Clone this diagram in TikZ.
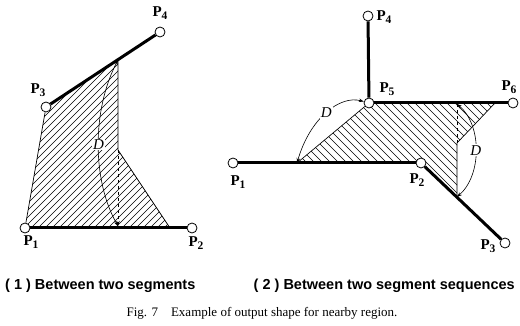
\documentclass[tikz,border=0pt]{standalone}
\usepackage{fontspec}
\setmainfont{Liberation Serif}
\newfontfamily\capfont{Liberation Sans}
\usetikzlibrary{arrows.meta}
\newcommand\plabel[1]{\textbf{P\raisebox{-0.4ex}{\fontsize{11.5}{11.5}\selectfont #1}}}
\tikzset{
  pt/.style={circle,draw,fill=white,line width=0.8pt,minimum size=10pt,inner sep=0pt},
  thick seg/.style={line width=3pt},
  edge/.style={line width=0.7pt},
  hatch/.style={line width=0.6pt},
  darr/.style={line width=0.6pt,{Stealth[length=5pt,width=3.5pt]}-{Stealth[length=5pt,width=3.5pt]}},
  sarr/.style={line width=0.6pt,-{Stealth[length=5pt,width=3.5pt]}},
  lbl/.style={font=\fontsize{15}{15}\selectfont,inner sep=1pt},
  dlbl/.style={font=\fontsize{15}{15}\selectfont\itshape,fill=white,inner sep=1pt},
  captext/.style={font=\capfont\bfseries\fontsize{14.5}{14.5}\selectfont,inner sep=0pt},
}
\begin{document}
\begin{tikzpicture}[x=1pt,y=-1pt]
\useasboundingbox (0,0) rectangle (520,326);
% ---------- left figure ----------
\coordinate (T) at (118,60);
\coordinate (M) at (118,150);
\coordinate (Q) at (170,228);
\coordinate (B) at (118,226);
\begin{scope}
  \clip (25,228) -- (46,107) -- (T) -- (M) -- (Q) -- cycle;
  \foreach \i in {-240,-233,...,200} \draw[hatch] (\i,240) -- ++(240,-240);
\end{scope}
\node[pt] (a1) at (25,228) {};
\node[pt] (a2) at (192,228) {};
\node[pt] (a3) at (46,107) {};
\node[pt] (a4) at (160,32) {};
\draw[edge] (a1) -- (a3);
\draw[edge] (T) -- (M) -- (Q);
\draw[thick seg] (a1) -- (a2);
\draw[thick seg] (a3) -- (a4);
\draw[sarr,dashed] (M) -- (B);
\draw[darr] (T) .. controls (92,110) and (92,180) .. (B) node[dlbl,pos=0.5] (dl) {D};
\node[lbl] (la4) at (160,13) {\plabel{4}};
\node[lbl] (la3) at (38,90) {\plabel{3}};
\node[lbl] (la1) at (31,242) {\plabel{1}};
\node[lbl] (la2) at (196,243) {\plabel{2}};
% ---------- right figure ----------
\coordinate (A) at (297,163);
\coordinate (R) at (495,103);
\coordinate (S) at (457,143);
\coordinate (U) at (457,197);
\coordinate (Ut) at (457,104);
\begin{scope}
  \clip (A) -- (369,103) -- (R) -- (S) -- (U) -- (421,163) -- cycle;
  \foreach \i in {40,48,...,560} \draw[hatch] (\i,0) -- ++(240,240);
\end{scope}
\node[pt] (b1) at (233,163) {};
\node[pt] (b2) at (421,163) {};
\node[pt] (b3) at (505,243) {};
\node[pt] (b4) at (368,16) {};
\node[pt] (b5) at (369,103) {};
\node[pt] (b6) at (513,103) {};
\draw[edge] (A) -- (b5);
\draw[edge] (R) -- (S) -- (U);
\draw[hatch,dashed] (S) -- (Ut);
\draw[thick seg] (b4) -- (b5);
\draw[thick seg] (b5) -- (b6);
\draw[thick seg] (b1) -- (b2);
\draw[thick seg] (b2) -- (b3);
\draw[darr] (b5) .. controls (340,95) and (310,118) .. (A) node[dlbl,pos=0.5] (dr1) {D};
\draw[darr] (Ut) .. controls (482,125) and (482,175) .. (U) node[dlbl,pos=0.5] (dr2) {D};
\node[lbl] (lb4) at (384,17) {\plabel{4}};
\node[lbl] (lb5) at (387,89) {\plabel{5}};
\node[lbl] (lb6) at (509,87) {\plabel{6}};
\node[lbl] (lb1) at (238,182) {\plabel{1}};
\node[lbl] (lb2) at (417,180) {\plabel{2}};
\node[lbl] (lb3) at (488,246) {\plabel{3}};
% ---------- captions ----------
\node[captext,anchor=west] (c1) at (5,286) {( 1 ) Between two segments};
\node[captext,anchor=east] (c2) at (515,286) {( 2 ) Between two segment sequences};
\node[font=\fontsize{13}{13}\selectfont,inner sep=0pt] (fig) at (262,313) {Fig. 7\quad Example of output shape for nearby region.};
\end{tikzpicture}
\end{document}
